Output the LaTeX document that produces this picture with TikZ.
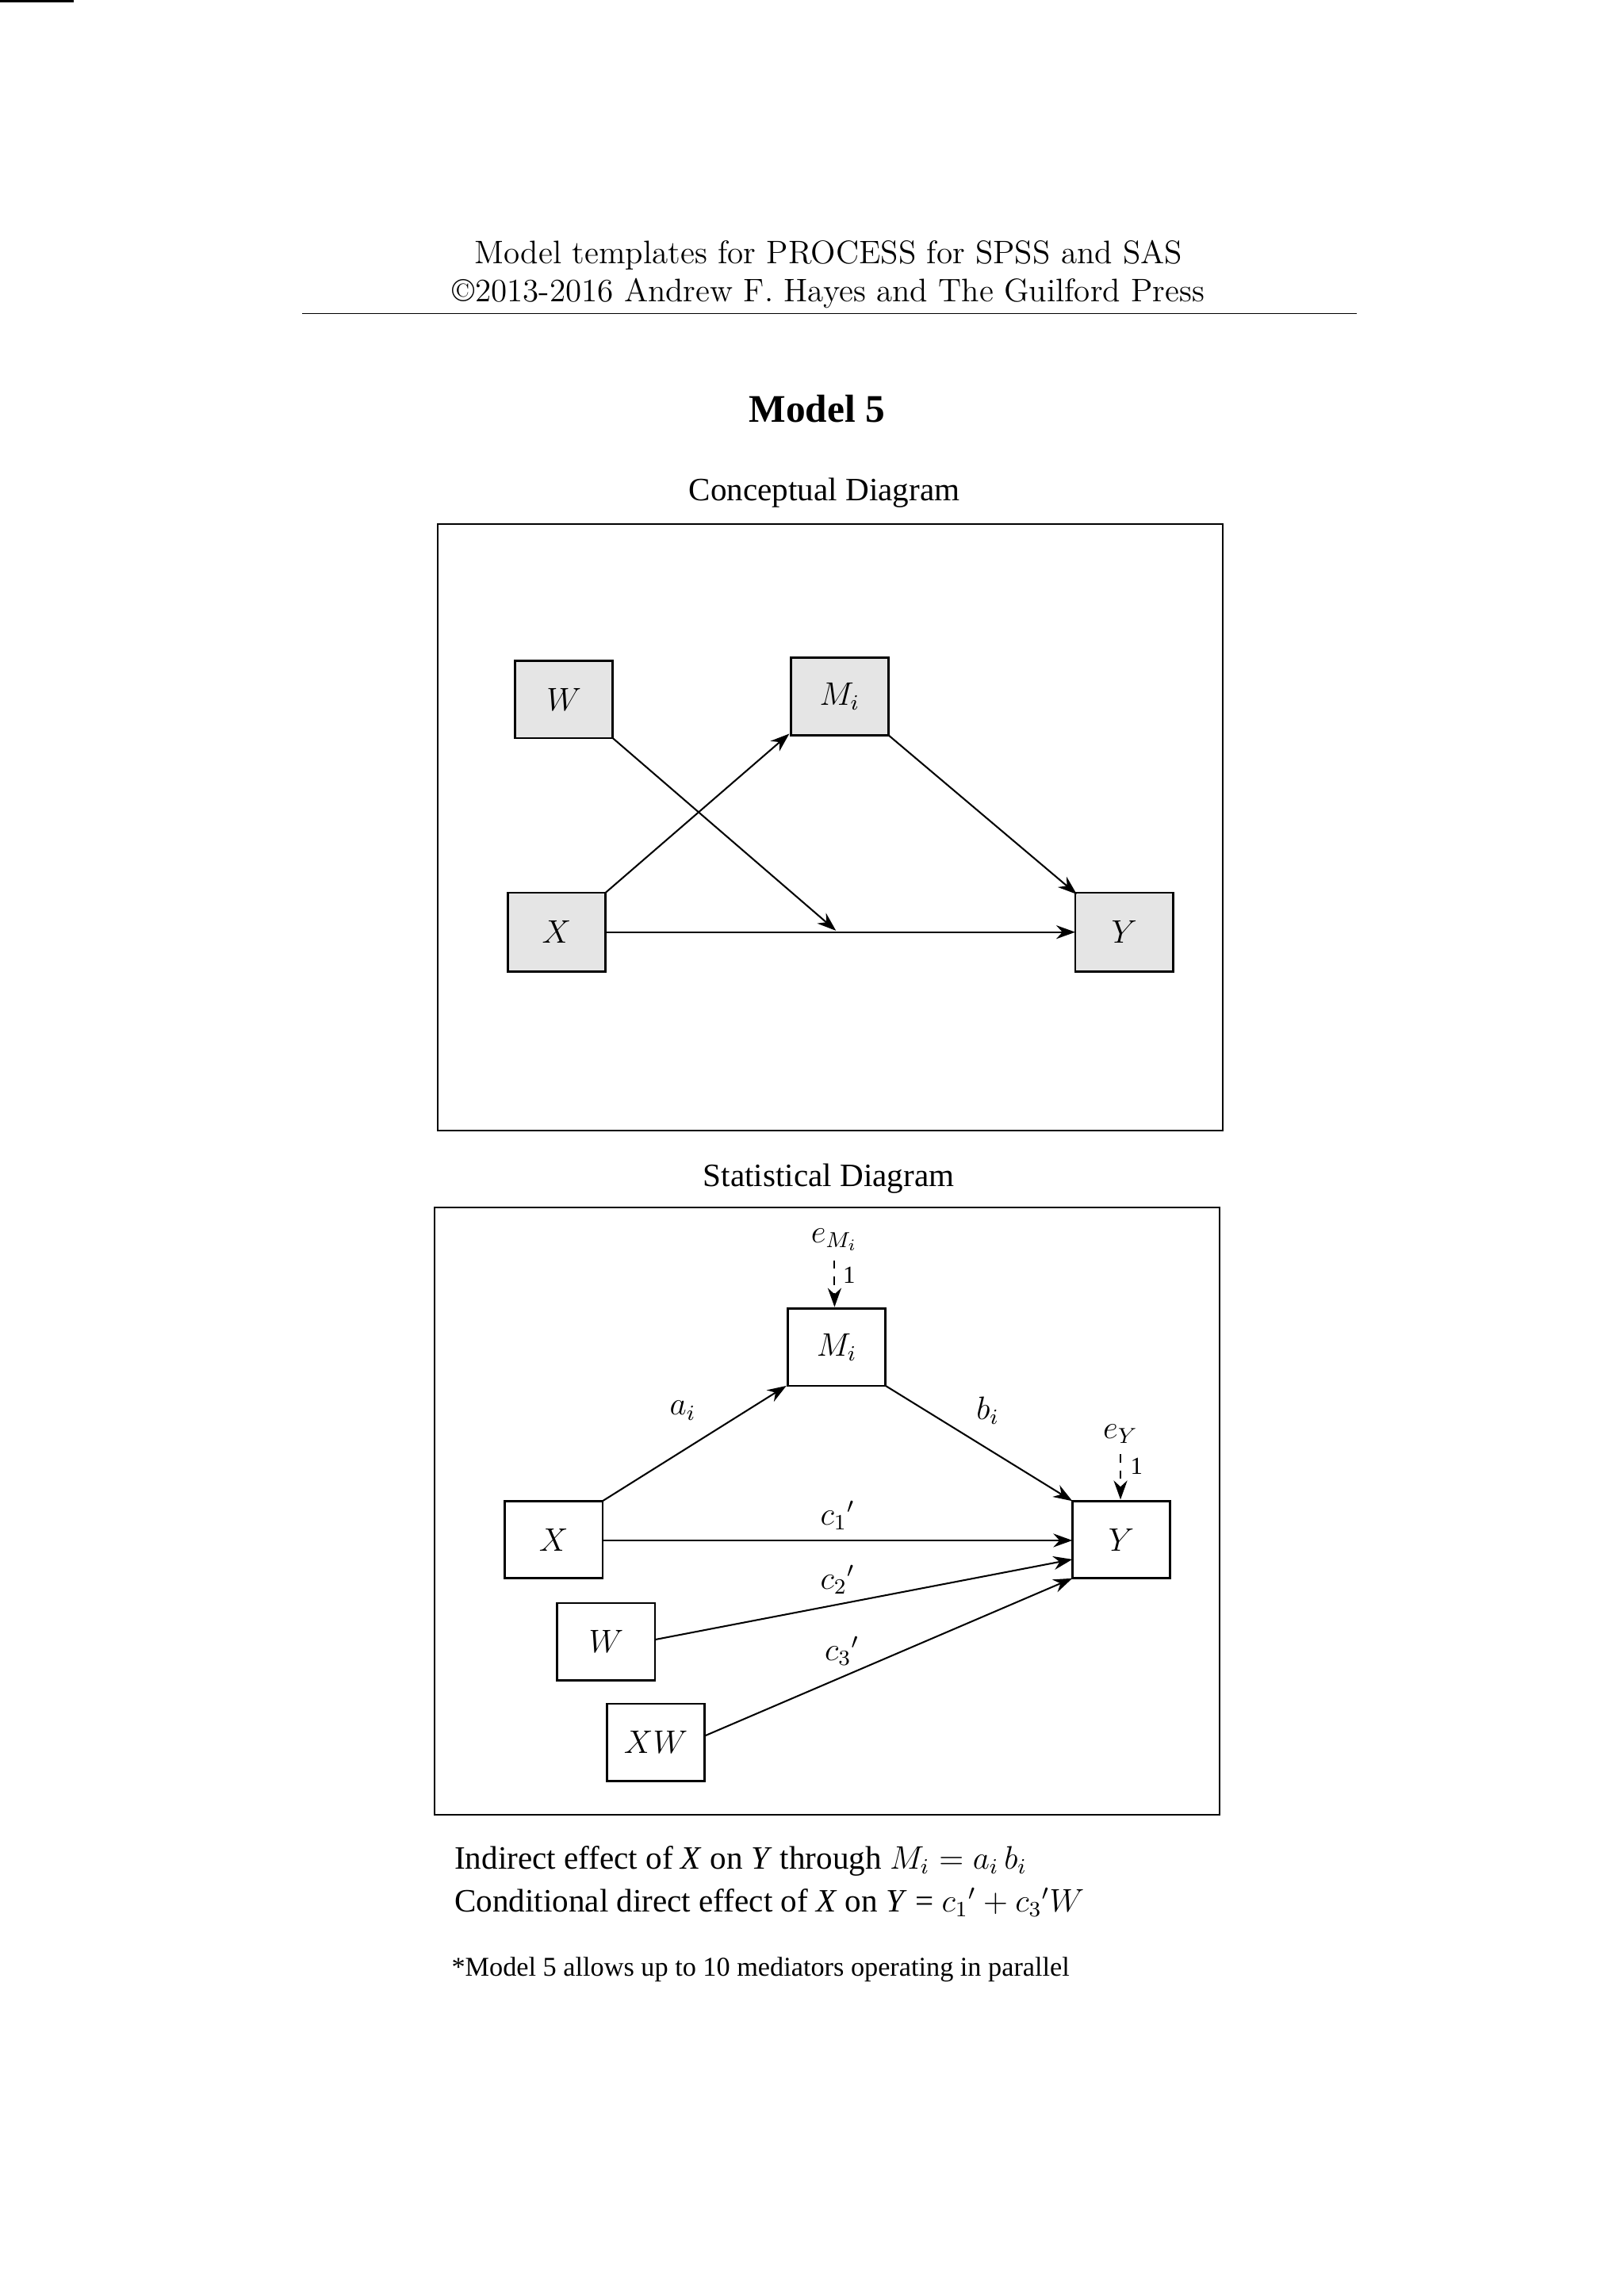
\documentclass[tikz,border=0pt]{standalone}
\usepackage{fontspec}
\setmainfont{Liberation Serif}
\newfontfamily\lmr{Latin Modern Roman}
\usetikzlibrary{arrows.meta}
\begin{document}
\begin{tikzpicture}[x=0.01887cm,y=-0.01887cm,
  box/.style={draw,line width=0.8pt},
  gbox/.style={box,fill=black!10},
  arr/.style={draw,line width=0.6pt,-{Stealth[length=7pt,width=5pt]}},
  darr/.style={arr,dashed},
  lbl/.style={font=\large}]
\useasboundingbox (0,0) rectangle (1113,1574);
\node[font=\lmr\large] (h1) at (568,175) {Model templates for PROCESS for SPSS and SAS};
\node[font=\lmr\large] (h2) at (568,201) {\textcopyright2013-2016 Andrew F. Hayes and The Guilford Press};
\draw[line width=0.5pt] (207,215) -- (930,215);
\node[font=\Large\bfseries] (title) at (560,280) {Model 5};
\node[font=\large] (t1) at (565,338) {Conceptual Diagram};
\draw[line width=0.6pt] (300,359) rectangle (838,775);
\node[gbox,minimum width=67\pgflinewidth,inner sep=0] at (0,0) {};
\path[gbox] (353,453) rectangle (420,506); \node[lbl] (cW) at (386.5,479.5) {$W$};
\path[gbox] (542,451) rectangle (609,504); \node[lbl] (cM) at (575.5,477.5) {$M_i$};
\path[gbox] (348,612) rectangle (415,666); \node[lbl] (cX) at (381.5,639) {$X$};
\path[gbox] (737,612) rectangle (804,666); \node[lbl] (cY) at (770.5,639) {$Y$};
\coordinate (cXtr) at (415,612); \coordinate (cMbl) at (541,503);
\coordinate (cWbr) at (420,506); \coordinate (cmid) at (573,638);
\coordinate (cMbr) at (609,504); \coordinate (cYtl) at (738,613);
\coordinate (cXr) at (415,639); \coordinate (cYl) at (737,639);
\draw[arr] (cXtr) -- (cMbl);
\draw[arr] (cWbr) -- (cmid);
\draw[arr] (cMbr) -- (cYtl);
\draw[arr] (cXr) -- (cYl);
\node[font=\large] (t2) at (568,808) {Statistical Diagram};
\draw[line width=0.6pt] (298,828) rectangle (836,1244);
\path[box] (540,897) rectangle (607,950); \node[lbl] (sM) at (573.5,923.5) {$M_i$};
\path[box] (346,1029) rectangle (413,1082); \node[lbl] (sX) at (379.5,1055.5) {$X$};
\path[box] (735,1029) rectangle (802,1082); \node[lbl] (sY) at (768.5,1055.5) {$Y$};
\path[box] (382,1099) rectangle (449,1152); \node[lbl] (sW) at (415.5,1125.5) {$W$};
\path[box] (416,1168) rectangle (483,1221); \node[lbl] (sXW) at (449.5,1194.5) {$XW$};
\node[lbl] (eM) at (572,850) {$e_{M_i}$};
\coordinate (eMs) at (572,864); \coordinate (eMe) at (572,896);
\draw[darr] (eMs) -- (eMe); \node (o1) at (582,874) {\small 1};
\node[lbl] (eY) at (768,983) {$e_Y$};
\coordinate (eYs) at (768,997); \coordinate (eYe) at (768,1028);
\draw[darr] (eYs) -- (eYe); \node (o2) at (779,1005) {\small 1};
\coordinate (sXtr) at (413,1029); \coordinate (sMbl) at (539,950);
\coordinate (sMbr) at (607,950); \coordinate (sYtl) at (735,1029);
\coordinate (sXr) at (413,1056); \coordinate (sYl) at (735,1056);
\coordinate (sWr) at (449,1124); \coordinate (sYl2) at (735,1069);
\coordinate (sXWr) at (483,1190); \coordinate (sYl3) at (735,1082);
\draw[arr] (sXtr) -- (sMbl);
\draw[arr] (sMbr) -- (sYtl);
\draw[arr] (sXr) -- (sYl);
\draw[arr] (sWr) -- (sYl2);
\draw[arr] (sXWr) -- (sYl3);
\node[lbl] (la) at (468,967) {$a_i$};
\node[lbl] (lb) at (677,967) {$b_i$};
\node[lbl] (lc1) at (574,1039) {$c_1{}'$};
\node[lbl] (lc2) at (574,1083) {$c_2{}'$};
\node[lbl] (lc3) at (577,1132) {$c_3{}'$};
\node[anchor=west,font=\large] (n1) at (305,1276) {Indirect effect of \textit{X} on \textit{Y} through $M_i = a_i\,b_i$};
\node[anchor=west,font=\large] (n2) at (305,1304) {Conditional direct effect of \textit{X} on \textit{Y} = $c_1{}' + c_3{}'W$};
\node[anchor=west] (n3) at (303,1350) {*Model 5 allows up to 10 mediators operating in parallel};
\end{tikzpicture}
\end{document}
